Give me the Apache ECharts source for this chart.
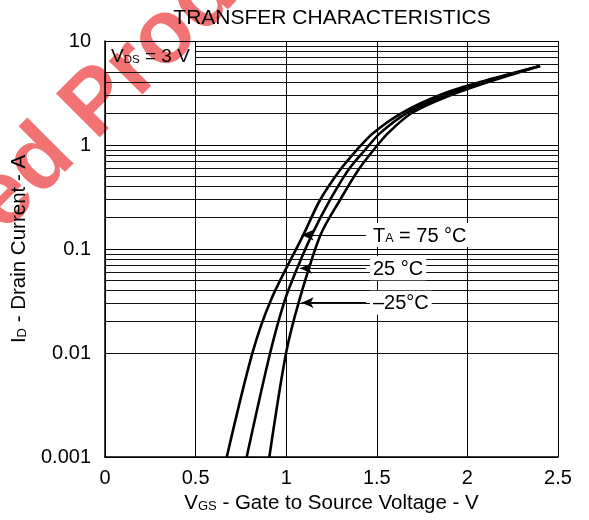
<!DOCTYPE html>
<html>
<head>
<meta charset="utf-8">
<script src="https://cdn.jsdelivr.net/npm/echarts@6/dist/echarts.min.js"></script>
<style>html,body{margin:0;padding:0;background:#fff}#c{width:589px;height:520px}</style>
</head>
<body>
<div id="c"></div>
<script>
// ---- data ----
const xTickValues = [0, 0.5, 1, 1.5, 2, 2.5];
const xTickLabels = ['0', '0.5', '1', '1.5', '2', '2.5'];
const yTickValues = [0.001, 0.01, 0.1, 1, 10];
const yTickLabels = ['0.001', '0.01', '0.1', '1', '10'];
const minorMultipliers = [2, 3, 4, 5, 6, 7, 8, 9];

const vgs75 = [0.672, 0.813, 0.916, 1.094, 1.187, 1.297, 1.389, 1.479, 1.637, 1.849, 2.070, 2.401];
const id75  = [0.001, 0.00993, 0.0324, 0.136, 0.296, 0.575, 0.895, 1.30, 2.03, 3.03, 4.03, 5.75];

const vgs25 = [0.782, 0.911, 0.993, 1.062, 1.141, 1.242, 1.343, 1.435, 1.518, 1.665, 1.865, 2.075, 2.401];
const id25  = [0.001, 0.00993, 0.0324, 0.0661, 0.136, 0.296, 0.575, 0.895, 1.30, 2.03, 2.96, 3.95, 5.75];

const vgsM25 = [0.907, 0.999, 1.073, 1.189, 1.297, 1.398, 1.482, 1.562, 1.693, 1.882, 2.081, 2.401];
const idM25  = [0.001, 0.00993, 0.0324, 0.136, 0.296, 0.575, 0.895, 1.30, 2.03, 2.89, 3.86, 5.75];

// annotation anchors: [arrow tip Vgs, label Vgs, Id level]
const ann75  = [1.085, 1.440, 0.136];
const ann25  = [1.076, 1.440, 0.0652];
const annM25 = [1.085, 1.440, 0.0305];

// ---- chart ----
const FONT = 'Liberation Sans, Arial, Helvetica, sans-serif';
const zip = (xs, ys) => xs.map((x, i) => [x, ys[i]]);

// minor log grid lines (top decade lines above 5 start at 0.5 V, leaving room for the V_DS note)
const minorLines = [];
yTickValues.slice(0, -1).forEach(d => {
  minorMultipliers.forEach(m => {
    const v = d * m;
    if (v > 5.5) minorLines.push([{ coord: [0.5, v] }, { coord: [2.5, v] }]);
    else minorLines.push({ yAxis: v });
  });
});

const rich = {
  n: { fontSize: 20, fontFamily: FONT, color: '#000' },
  s: { fontSize: 12.5, fontFamily: FONT, color: '#000', verticalAlign: 'bottom', padding: [0, 0, 1, 0] }
};
const richVds = {
  n: { fontSize: 19, fontFamily: FONT, color: '#000' },
  s: { fontSize: 11.5, fontFamily: FONT, color: '#000', verticalAlign: 'bottom', padding: [0, 0, 1, 0] }
};
const richName = {
  n: { fontSize: 20.5, fontFamily: FONT, color: '#000' },
  s: { fontSize: 13, fontFamily: FONT, color: '#000', verticalAlign: 'bottom', padding: [0, 0, 1, 0] }
};

function annotation(a, text) {
  return {
    silent: true,
    symbol: ['arrow', 'none'],
    symbolSize: [8, 12],
    lineStyle: { color: '#000', width: 1, type: 'solid' },
    label: {
      show: true, position: 'end', distance: 4,
      formatter: text, rich: rich,
      backgroundColor: '#fff', padding: [3, 3, 1, 3]
    },
    data: [[{ coord: [a[0], a[2]] }, { coord: [a[1], a[2]] }]]
  };
}

function curve(name, data, ann, text) {
  return {
    name: name, type: 'line', data: data,
    showSymbol: false, smooth: 0.3,
    lineStyle: { color: '#000', width: 2.6 },
    markLine: annotation(ann, text)
  };
}

const chart = echarts.init(document.getElementById('c'), null, { renderer: 'canvas' });
chart.setOption({
  animation: false,
  backgroundColor: '#fff',
  textStyle: { fontFamily: FONT },
  title: {
    text: 'TRANSFER CHARACTERISTICS',
    left: 327, textAlign: 'center', top: 3,
    textStyle: { fontSize: 21, fontWeight: 'normal', color: '#000', fontFamily: FONT }
  },
  graphic: [{
    type: 'group', x: 78, y: 124, rotation: Math.PI / 4, z: -1, silent: true,
    children: [
      { type: 'text', style: { text: 'Discontinued ', align: 'right', verticalAlign: 'middle', font: 'bold 90px ' + FONT, fill: 'rgba(236,55,55,0.7)' } },
      { type: 'text', style: { text: 'Product', align: 'left', verticalAlign: 'middle', font: 'bold 90px ' + FONT, fill: 'rgba(236,55,55,0.7)' } }
    ]
  }],
  grid: { left: 105, right: 31, top: 41, bottom: 63, containLabel: false },
  xAxis: {
    type: 'value', min: 0, max: 2.5, interval: 0.5,
    name: '{n|V}{s|GS}{n| - Gate to Source Voltage - V}',
    nameLocation: 'middle', nameGap: 36,
    nameTextStyle: { rich: richName },
    axisLine: { lineStyle: { color: '#000', width: 1.5 } },
    axisTick: { show: false },
    axisLabel: {
      fontSize: 20, color: '#000', margin: 11, fontFamily: FONT,
      formatter: v => { const i = xTickValues.findIndex(t => Math.abs(t - v) < 1e-9); return i >= 0 ? xTickLabels[i] : ''; }
    },
    splitLine: { show: true, lineStyle: { color: '#000', width: 1 } }
  },
  yAxis: {
    type: 'log', logBase: 10, min: 0.001, max: 10,
    name: '{n|I}{s|D}{n| - Drain Current - A}',
    nameLocation: 'middle', nameGap: 75,
    nameTextStyle: { rich: richName },
    axisLine: { show: true, lineStyle: { color: '#000', width: 1.5 } },
    axisTick: { show: false },
    minorTick: { show: false },
    minorSplitLine: { show: false },
    axisLabel: {
      fontSize: 20, color: '#000', margin: 14, fontFamily: FONT,
      formatter: v => { const i = yTickValues.findIndex(t => Math.abs(Math.log10(t) - Math.log10(v)) < 1e-6); return i >= 0 ? yTickLabels[i] : ''; }
    },
    splitLine: { show: true, lineStyle: { color: '#000', width: 1 } }
  },
  series: [
    {
      name: 'grid', type: 'line', data: [], silent: true,
      markLine: {
        silent: true, symbol: 'none', label: { show: false },
        lineStyle: { color: '#111', width: 1, type: 'solid' },
        data: minorLines
      },
      markArea: {
        silent: true,
        itemStyle: { color: 'rgba(0,0,0,0)' },
        label: { show: true, position: 'insideLeft', distance: 6, offset: [0, 2], formatter: '{n|V}{s|DS}{n| = 3 V}', rich: richVds },
        data: [[{ coord: [0, 10] }, { coord: [0.5, 5.4] }]]
      }
    },
    curve('75', zip(vgs75, id75), ann75, '{n|T}{s|A}{n| = 75 °C}'),
    curve('25', zip(vgs25, id25), ann25, '{n|25 °C}'),
    curve('-25', zip(vgsM25, idM25), annM25, '{n|–25°C}')
  ]
});
</script>
</body>
</html>
